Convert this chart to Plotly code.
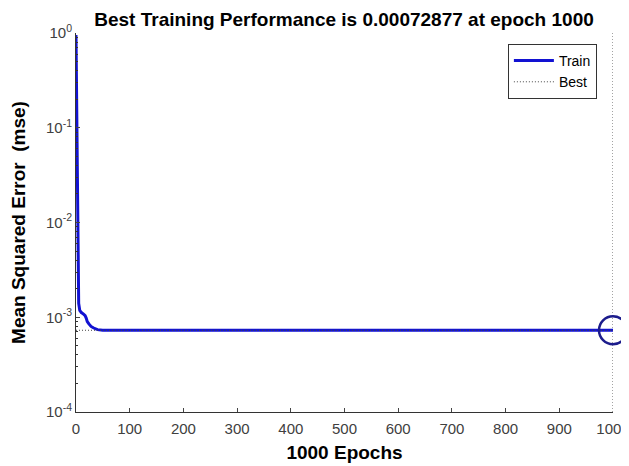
import plotly.graph_objects as go

epochs = [0, 1, 2, 3, 4, 5, 7, 10, 14, 17, 19, 21, 24, 28, 33, 40, 50, 60, 100, 200, 400, 600, 800, 1000]
train_mse = [0.95, 0.2, 0.03, 0.006, 0.002, 0.0014, 0.00118, 0.00112, 0.00108, 0.00104, 0.00098,
             0.00090, 0.00085, 0.00080, 0.00077, 0.00074, 0.000731, 0.00073, 0.000729, 0.0007289,
             0.0007288, 0.0007288, 0.00072878, 0.00072877]
best_epoch = 1000
best_perf = 0.00072877

x_ticks = [0, 100, 200, 300, 400, 500, 600, 700, 800, 900, 1000]
y_ticks = [1e-4, 1e-3, 1e-2, 1e-1, 1e0]
y_ticktext = ["10<sup>-4</sup>", "10<sup>-3</sup>", "10<sup>-2</sup>", "10<sup>-1</sup>", "10<sup>0</sup>"]
y_minor = [m * 10 ** e for e in range(-4, 0) for m in range(2, 10)]

# The page body has an 8px default margin, so the figure is sized to fill the rest of the window.
W, H = 621, 458

fig = go.Figure()
fig.add_trace(go.Scatter(x=epochs, y=train_mse, mode="lines", name="Train",
                         line=dict(color="rgb(18,18,210)", width=3)))
fig.add_trace(go.Scatter(x=[0, best_epoch, None, best_epoch, best_epoch],
                         y=[best_perf, best_perf, None, 1e-4, 1e0],
                         mode="lines", name="Best",
                         line=dict(color="rgb(70,70,70)", width=1, dash="1px,2px")))
fig.add_trace(go.Scatter(x=[best_epoch], y=[best_perf], mode="markers", showlegend=False,
                         marker=dict(symbol="circle-open", size=28, color="rgb(28,28,140)",
                                     line=dict(color="rgb(28,28,140)", width=2.5)),
                         cliponaxis=False))

fig.update_layout(
    width=W, height=H,
    margin=dict(l=68, r=16, t=25, b=54),
    paper_bgcolor="white", plot_bgcolor="white",
    font=dict(family="Liberation Sans, Arial, sans-serif", color="#404040", size=15),
    title=dict(text="<b>Best Training Performance is 0.00072877 at epoch 1000</b>",
               x=336 / W, xanchor="center", y=1 - 11.5 / H, yanchor="middle",
               font=dict(size=19, color="black")),
    showlegend=True,
    legend=dict(x=0.970, y=0.971, xanchor="right", yanchor="top",
                bordercolor="#333", borderwidth=1, bgcolor="white",
                font=dict(size=14, color="black"), tracegroupgap=0, itemwidth=40),
    xaxis=dict(range=[0, 1000], tickvals=x_ticks, ticks="inside", ticklen=4,
               showline=True, linecolor="#333", linewidth=1, showgrid=False, zeroline=False,
               automargin=False, ticklabeloverflow="allow", ticklabelstandoff=3,
               title=dict(text="<b>1000 Epochs</b>", font=dict(size=19, color="black"), standoff=9)),
    yaxis=dict(type="log", range=[-4, 0], tickvals=y_ticks, ticktext=y_ticktext,
               ticks="inside", ticklen=4, showline=True, linecolor="#333", linewidth=1,
               showgrid=False, zeroline=False, automargin=False, ticklabeloverflow="allow",
               minor=dict(tickmode="array", tickvals=y_minor, ticks="inside", ticklen=2,
                          tickcolor="#333"),
               title=dict(text="<b>Mean Squared Error  (mse)</b>", font=dict(size=19, color="black"),
                          standoff=22)),
)

fig.write_html("out.html")
